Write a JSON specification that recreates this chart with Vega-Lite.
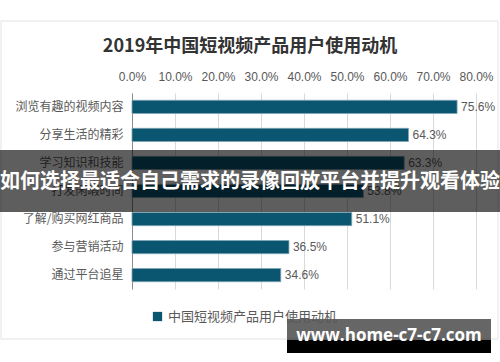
{
  "$schema": "https://vega.github.io/schema/vega-lite/v6.json",
  "width": 344,
  "height": 196,
  "autosize": {"type": "none"},
  "padding": {"left": 132, "top": 93, "right": 24, "bottom": 73},
  "background": "white",
  "config": {
    "view": {"stroke": null},
    "font": "Noto Sans CJK SC"
  },
  "title": {
    "text": "2019年中国短视频产品用户使用动机",
    "anchor": "middle",
    "dx": -54,
    "fontSize": 18,
    "fontWeight": "bold",
    "color": "#333333",
    "font": "Noto Sans CJK SC",
    "offset": -35
  },
  "data": {
    "values": [
      {"motive": "浏览有趣的视频内容", "share": 0.756, "series": "中国短视频产品用户使用动机"},
      {"motive": "分享生活的精彩", "share": 0.643, "series": "中国短视频产品用户使用动机"},
      {"motive": "学习知识和技能", "share": 0.633, "series": "中国短视频产品用户使用动机"},
      {"motive": "打发闲暇时间", "share": 0.538, "series": "中国短视频产品用户使用动机"},
      {"motive": "了解/购买网红商品", "share": 0.511, "series": "中国短视频产品用户使用动机"},
      {"motive": "参与营销活动", "share": 0.365, "series": "中国短视频产品用户使用动机"},
      {"motive": "通过平台追星", "share": 0.346, "series": "中国短视频产品用户使用动机"}
    ]
  },
  "encoding": {
    "y": {
      "field": "motive",
      "type": "nominal",
      "sort": null,
      "title": null,
      "scale": {"paddingInner": 0.53, "paddingOuter": 0.26},
      "axis": {
        "ticks": false,
        "domainColor": "#8C8C8C",
        "labelFontSize": 12,
        "labelColor": "#595959",
        "labelPadding": 9,
        "labelFont": "Noto Sans CJK SC"
      }
    },
    "x": {
      "field": "share",
      "type": "quantitative",
      "title": null,
      "scale": {"domain": [0, 0.8], "nice": false},
      "axis": {
        "orient": "top",
        "format": ".1%",
        "values": [0, 0.1, 0.2, 0.3, 0.4, 0.5, 0.6, 0.7, 0.8],
        "domain": false,
        "ticks": false,
        "gridColor": "#D9D9D9",
        "labelFontSize": 12,
        "labelColor": "#595959",
        "labelPadding": 10,
        "labelOverlap": false,
        "labelFlush": false,
        "labelBound": false,
        "labelFont": "Liberation Sans"
      }
    }
  },
  "layer": [
    {
      "data": {"values": [{"frame": "border"}]},
      "mark": {"type": "rect", "fill": null, "stroke": "#E3E3E3", "strokeWidth": 1},
      "encoding": {
        "x": {"value": -131},
        "x2": {"value": 366},
        "y": {"value": -72},
        "y2": {"value": 246}
      }
    },
    {
      "mark": {"type": "bar", "stroke": "#7FA5B5", "strokeWidth": 0.8},
      "encoding": {
        "color": {
          "field": "series",
          "type": "nominal",
          "scale": {"range": ["#0A5570"]},
          "legend": {
            "title": null,
            "orient": "none",
            "legendX": 19,
            "legendY": 217,
            "symbolType": "square",
            "symbolSize": 86,
            "symbolStrokeWidth": 0,
            "labelFontSize": 13,
            "labelLimit": 0,
            "labelColor": "#595959",
            "labelFont": "Noto Sans CJK SC"
          }
        }
      }
    },
    {
      "mark": {"type": "text", "align": "left", "dx": 4, "fontSize": 12, "color": "#595959", "font": "Liberation Sans"},
      "encoding": {
        "text": {"field": "share", "type": "quantitative", "format": ".1%"}
      }
    },
    {
      "data": {"values": [{"label": "如何选择最适合自己需求的录像回放平台并提升观看体验"}]},
      "mark": {"type": "rect", "fill": "#000000", "opacity": 0.63, "clip": false},
      "encoding": {
        "x": {"value": -132},
        "x2": {"value": 368},
        "y": {"value": 57},
        "y2": {"value": 119}
      }
    },
    {
      "data": {"values": [{"label": "如何选择最适合自己需求的录像回放平台并提升观看体验"}]},
      "mark": {"type": "text", "align": "center", "baseline": "middle", "fontSize": 20, "fontWeight": "bold", "color": "white", "font": "Noto Sans CJK SC"},
      "encoding": {
        "x": {"value": 118},
        "y": {"value": 89},
        "text": {"field": "label"}
      }
    },
    {
      "data": {"values": [{"label": "www.home-c7-c7.com"}]},
      "mark": {"type": "rect", "fill": "#000000", "opacity": 0.6},
      "encoding": {
        "x": {"value": 155},
        "x2": {"value": 359},
        "y": {"value": 226},
        "y2": {"value": 247}
      }
    },
    {
      "data": {"values": [{"label": "www.home-c7-c7.com"}]},
      "mark": {"type": "rect", "fill": "#000000"},
      "encoding": {
        "x": {"value": 155},
        "x2": {"value": 359},
        "y": {"value": 247},
        "y2": {"value": 260}
      }
    },
    {
      "data": {"values": [{"label": "www.home-c7-c7.com"}]},
      "mark": {"type": "text", "align": "center", "baseline": "middle", "fontSize": 17, "fontWeight": "bold", "color": "white", "font": "Open Sans"},
      "encoding": {
        "x": {"value": 257},
        "y": {"value": 243},
        "text": {"field": "label"}
      }
    }
  ]
}
